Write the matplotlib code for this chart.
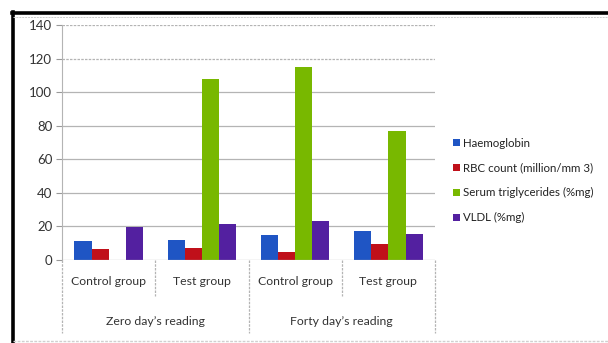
import numpy as np
import matplotlib
matplotlib.use("Agg")
from matplotlib import pyplot as plt
from matplotlib.lines import Line2D

plt.rcParams['font.family'] = ['Lato', 'DejaVu Sans']

# categories and readings
grupos = ['Control group', 'Test group', 'Control group', 'Test group']
lecturas = ["Zero day\u2019s reading", "Forty day\u2019s reading"]
series = ['Haemoglobin', 'RBC count (million/mm 3)',
          'Serum triglycerides (%mg)', 'VLDL (%mg)']

haemoglobin = [11.6, 12.0, 14.6, 17.0]
rbc = [6.6, 7.3, 4.6, 9.8]
trigliceridos = [0, 108, 115, 77]
vldl = [19.4, 21.6, 23.3, 15.5]

colores = ['#1f55c4', '#c0101a', '#78b800', '#5320a0']

fig = plt.figure(figsize=(6.08, 3.43), dpi=100)
ax = fig.add_axes([0.102, 0.242, 0.6135, 0.685])

x = np.arange(len(grupos)) + 0.5
ancho = 0.183
desplaz = [-0.275, -0.092, 0.092, 0.275]
valores = [haemoglobin, rbc, trigliceridos, vldl]
for i in range(4):
    ax.bar(x + desplaz[i], valores[i], width=ancho, color=colores[i],
           label=series[i], zorder=3)

ax.set_xlim(0, 4)
ax.set_ylim(0, 140)
ax.set_yticks(range(0, 141, 20))
ax.tick_params(axis='y', length=4, color='#999999', labelsize=9.5,
               labelcolor='#333333', pad=3)
ax.set_xticks([])

# horizontal gridlines
for v in range(20, 141, 20):
    estilo = (0, (2, 1)) if v >= 120 else '-'
    ax.axhline(v, color='#b4b4b4', lw=0.9, ls=estilo, zorder=1)

for lado in ['top', 'right', 'bottom']:
    ax.spines[lado].set_visible(False)
ax.spines['left'].set_color('#b4b4b4')
ax.spines['left'].set_linestyle((0, (2, 1)))
ax.axhline(0, color='#b4b4b4', lw=0.9, zorder=4)

# two-level category axis
trans = ax.get_xaxis_transform()
for xi, nombre in zip(x, grupos):
    ax.text(xi, -0.09, nombre, transform=trans, ha='center', va='center',
            fontsize=8.8, color='#333333')
for j, nombre in enumerate(lecturas):
    ax.text(2 * j + 1, -0.26, nombre, transform=trans, ha='center',
            va='center', fontsize=8.8, color='#333333')
for xs in [0, 2, 4]:
    ax.plot([xs, xs], [0, -0.31], transform=trans, clip_on=False,
            color='#b4b4b4', lw=0.9, ls=(0, (2, 1)))
for xs in [1, 3]:
    ax.plot([xs, xs], [0, -0.155], transform=trans, clip_on=False,
            color='#b4b4b4', lw=0.9, ls=(0, (2, 1)))

ax.legend(loc='center left', bbox_to_anchor=(1.02, 0.338), frameon=False,
          fontsize=8.3, handlelength=0.6, handleheight=0.6,
          handletextpad=0.3, labelspacing=1.2, labelcolor='#222222')

# frame around the chart
fig.add_artist(Line2D([12 / 608, 1], [1 - 13 / 343] * 2, color='black', lw=2.6,
                      transform=fig.transFigure))
fig.add_artist(Line2D([13 / 608] * 2, [0, 1 - 12 / 343], color='black', lw=2.6,
                      transform=fig.transFigure))
fig.add_artist(Line2D([13 / 608, 1], [1 - 16.5 / 343] * 2, color='#cccccc',
                      lw=0.7, ls=(0, (2, 1)), transform=fig.transFigure))
fig.add_artist(Line2D([13 / 608, 1], [1 - 341 / 343] * 2, color='#d0d0d0',
                      lw=1.0, ls=(0, (2, 1)), transform=fig.transFigure))

fig.savefig('out.png', dpi=100)
plt.close(fig)
